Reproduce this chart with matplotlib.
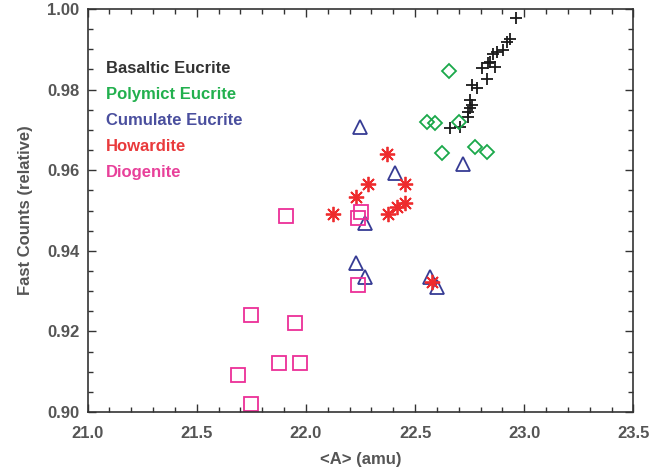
import matplotlib
matplotlib.use("Agg")
import matplotlib.pyplot as plt
from matplotlib.ticker import MultipleLocator, FormatStrFormatter

# <A> (amu) and fast counts (relative) per meteorite class
basaltic_x = [22.961, 22.935, 22.922, 22.904, 22.874, 22.858, 22.843, 22.835, 22.866, 22.805,
              22.828, 22.759, 22.782, 22.751, 22.759, 22.751, 22.744, 22.744, 22.706, 22.660]
basaltic_y = [0.9977, 0.9925, 0.9919, 0.9898, 0.9894, 0.9888, 0.9869, 0.9865, 0.9857, 0.9853,
              0.9826, 0.9811, 0.9803, 0.9774, 0.9762, 0.9754, 0.9745, 0.9733, 0.9708, 0.9705]

polymict_x = [22.657, 22.553, 22.591, 22.702, 22.622, 22.774, 22.828]
polymict_y = [0.9847, 0.9720, 0.9718, 0.9720, 0.9643, 0.9658, 0.9646]

cumulate_x = [22.248, 22.408, 22.271, 22.718, 22.229, 22.271, 22.568, 22.602]
cumulate_y = [0.9706, 0.9592, 0.9468, 0.9615, 0.9370, 0.9334, 0.9334, 0.9311]

howardite_x = [22.373, 22.286, 22.229, 22.454, 22.454, 22.419, 22.377, 22.125, 22.576]
howardite_y = [0.9639, 0.9567, 0.9533, 0.9566, 0.9519, 0.9508, 0.9491, 0.9491, 0.9323]

diogenite_x = [22.252, 22.240, 21.909, 22.240, 21.749, 21.951, 21.877, 21.972, 21.688, 21.749]
diogenite_y = [0.9497, 0.9481, 0.9486, 0.9315, 0.9241, 0.9220, 0.9122, 0.9122, 0.9092, 0.9019]

names = ["Basaltic Eucrite", "Polymict Eucrite", "Cumulate Eucrite", "Howardite", "Diogenite"]
text_colors = ["#333333", "#22b04e", "#4a4f9e", "#e93a3c", "#e8409a"]

plt.rcParams['font.family'] = ['Liberation Sans', 'DejaVu Sans']
plt.rcParams['font.weight'] = 'bold'
plt.rcParams['axes.labelweight'] = 'bold'

fig = plt.figure(figsize=(6.65, 4.74), dpi=100)
ax = fig.add_axes([0.1316, 0.1308, 0.821, 0.8502])

lw = 1.3
ax.plot(basaltic_x, basaltic_y, ls='none', marker='+', ms=9, mew=lw, color='#1a1a1a')
ax.plot(polymict_x, polymict_y, ls='none', marker='D', ms=7.5, mew=lw, mfc='none', color='#1aa84a')
ax.plot(cumulate_x, cumulate_y, ls='none', marker='^', ms=10, mew=lw, mfc='none', color='#363b94')
ax.plot(howardite_x, howardite_y, ls='none', marker=(8, 2, 0), ms=11, mew=lw, color='#ee2b2d')
ax.plot(diogenite_x, diogenite_y, ls='none', marker='s', ms=9.5, mew=lw, mfc='none', color='#ec2f97')

ax.set_xlim(21.0, 23.5)
ax.set_ylim(0.90, 1.00)
ax.xaxis.set_major_locator(MultipleLocator(0.5))
ax.xaxis.set_minor_locator(MultipleLocator(0.1))
ax.yaxis.set_major_locator(MultipleLocator(0.02))
ax.yaxis.set_minor_locator(MultipleLocator(0.005))
ax.xaxis.set_major_formatter(FormatStrFormatter('%.1f'))
ax.yaxis.set_major_formatter(FormatStrFormatter('%.2f'))

for s in ax.spines.values():
    s.set_color('#333333')
    s.set_linewidth(1.2)
ax.tick_params(which='both', direction='in', top=True, right=True, color='#333333',
               labelcolor='#555555', labelsize=12, width=1.0)
ax.tick_params(which='major', length=6, pad=10)
ax.tick_params(which='minor', length=3.5)
ax.tick_params(axis='y', pad=6)
for lbl in ax.get_xticklabels() + ax.get_yticklabels():
    lbl.set_fontweight('bold')

ax.set_xlabel('<A> (amu)', fontsize=12, color='#555555', labelpad=8)
ax.set_ylabel('Fast Counts (relative)', fontsize=12, color='#555555', labelpad=10)

for i, (name, c) in enumerate(zip(names, text_colors)):
    ax.text(0.034, 0.853 - i * 0.0647, name, transform=ax.transAxes, color=c,
            fontsize=12, va='center', ha='left')

fig.savefig('out.png', dpi=100)
